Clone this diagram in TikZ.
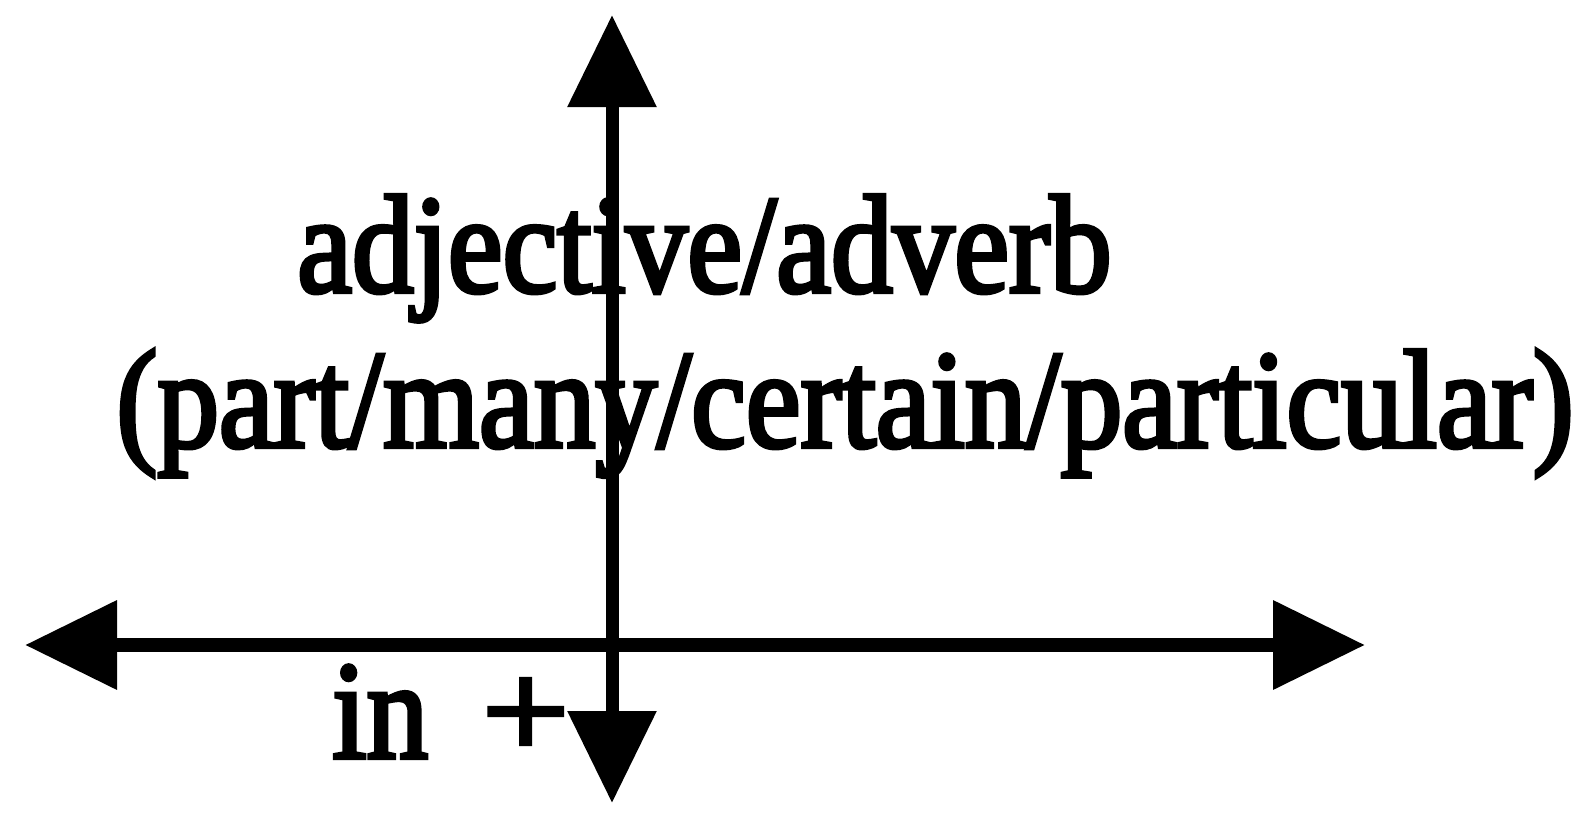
\documentclass[tikz,border=0pt]{standalone}
\usepackage{fontspec}
\newfontfamily\scanfont[FakeStretch=0.88,FakeBold=3]{Liberation Serif}
\usetikzlibrary{arrows.meta}
\begin{document}
\begin{tikzpicture}[x=0.5pt,y=-0.5pt,
  >={Triangle[length=46pt,width=43pt]},
  vaxis/.style={line width=6.5pt,<->},
  haxis/.style={line width=7pt,<->},
  label/.style={inner sep=0pt,anchor=base west,font=\scanfont\fontsize{70}{84}\selectfont}]
\useasboundingbox (0,0) rectangle (1592,819);
\coordinate (top) at (612,15);
\coordinate (bottom) at (612,803);
\coordinate (left) at (25,645);
\coordinate (right) at (1365,645);
\draw[haxis] (left) -- (right);
\draw[vaxis] (bottom) -- (top);
\node[label] (adj) at (297,292) {adjective/adverb};
\node[label] (part) at (116,447) {(part/many/certain/particular)};
\node[label] (in) at (332,758) {in\hspace{27pt}\scalebox{1.25}[1]{+}};
\end{tikzpicture}
\end{document}
